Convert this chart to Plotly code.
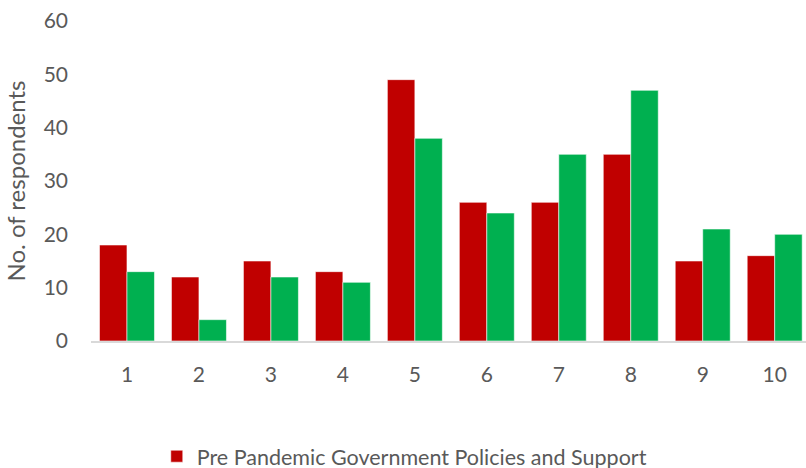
import plotly.graph_objects as go

categories = ["1", "2", "3", "4", "5", "6", "7", "8", "9", "10"]
pre_values = [18, 12, 15, 13, 49, 26, 26, 35, 15, 16]
post_values = [13, 4, 12, 11, 38, 24, 35, 47, 21, 20]
pre_name = "Pre Pandemic Government Policies and Support"
post_name = "Post Pandemic Government Policies and Support"
y_title = "No. of respondents"

FONT = "Lato"
GRAY = "#595959"

fig = go.Figure()
fig.add_trace(go.Bar(x=categories, y=pre_values, name=pre_name,
                     marker=dict(color="#C00000", line=dict(color="rgba(255,255,255,0.7)", width=0.8))))
fig.add_trace(go.Bar(x=categories, y=post_values, name=post_name,
                     marker=dict(color="#00B050", line=dict(color="rgba(255,255,255,0.7)", width=0.8))))

fig.update_layout(
    width=806, height=468,
    margin=dict(l=91, r=0, t=21, b=127, autoexpand=False),
    paper_bgcolor="white", plot_bgcolor="white",
    barmode="group", bargap=0.236, bargroupgap=0,
    font=dict(family=FONT, size=21, color=GRAY),
    showlegend=True,
    legend=dict(orientation="h", x=0.092, xanchor="left", y=-0.296, yanchor="top",
                itemwidth=30,
                font=dict(family=FONT, size=21.5, color=GRAY), traceorder="normal"),
)
fig.update_xaxes(type="category", range=[-0.5, 9.435], showline=True, linecolor="#D9D9D9",
                 linewidth=1.5, showgrid=False, ticks="", ticklabelstandoff=14,
                 tickfont=dict(family=FONT, size=21, color=GRAY))
fig.update_yaxes(range=[0, 60], dtick=10, showgrid=False, showline=False, zeroline=False,
                 ticks="", ticklabelstandoff=22,
                 tickfont=dict(family=FONT, size=21, color=GRAY),
                 title=dict(text=y_title, font=dict(family=FONT, size=24, color=GRAY), standoff=11))

fig.write_html("out.html")
